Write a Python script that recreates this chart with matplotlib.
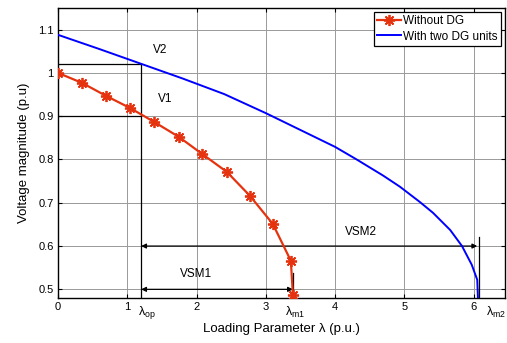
import numpy as np
import matplotlib
matplotlib.use('Agg')
import matplotlib.pyplot as plt

plt.rcParams['font.family'] = ['Liberation Sans', 'DejaVu Sans']
plt.rcParams['mathtext.fontset'] = 'custom'
plt.rcParams['mathtext.rm'] = 'Liberation Sans'
plt.rcParams['mathtext.it'] = 'Liberation Sans'

# without DG (red, markers)
lam_nodg = [0, 0.346, 0.693, 1.039, 1.385, 1.746, 2.078, 2.439, 2.77, 3.10, 3.36, 3.39]
v_nodg = [1.0, 0.977, 0.947, 0.919, 0.887, 0.852, 0.813, 0.771, 0.716, 0.651, 0.566, 0.487]

# with two DG units (blue)
lam_dg = [0, 0.6, 1.2, 1.8, 2.4, 3.0, 3.59, 4.0, 4.31, 4.69, 4.935, 5.22, 5.41,
          5.66, 5.83, 5.97, 6.05, 6.06]
v_dg = [1.088, 1.055, 1.021, 0.987, 0.951, 0.907, 0.861, 0.829, 0.80, 0.763, 0.737,
        0.702, 0.677, 0.637, 0.60, 0.557, 0.522, 0.48]

lam_op = 1.2
lam_m1 = 3.39
lam_m2 = 6.08
v1 = 0.9
v2 = 1.02

fig = plt.figure(figsize=(5.07, 3.43), dpi=100)
ax = fig.add_axes([0.1144, 0.1312, 0.8816, 0.8455])

ax.plot(lam_nodg, v_nodg, color='#E5330F', lw=1.6, marker=(8, 2, 0), ms=8, mew=1.3,
        label='Without DG', zorder=4)
ax.plot(lam_dg, v_dg, color='#0000FF', lw=1.4, label='With two DG units', zorder=4)

# operating point lines
ax.plot([0, lam_op], [v2, v2], color='k', lw=0.9, zorder=3)
ax.plot([0, lam_op], [v1, v1], color='k', lw=0.9, zorder=3)
ax.plot([lam_op, lam_op], [0.48, v2], color='k', lw=0.9, zorder=3)
ax.plot([lam_m1, lam_m1], [0.48, 0.538], color='k', lw=0.9, zorder=3)
ax.plot([lam_m2, lam_m2], [0.48, 0.62], color='k', lw=0.9, zorder=3)

# VSM arrows
arr = dict(arrowstyle='<|-|>', color='k', lw=0.9, mutation_scale=7, shrinkA=0, shrinkB=0)
ax.annotate('', xy=(lam_op, 0.6), xytext=(lam_m2 - 0.03, 0.6), arrowprops=arr, zorder=3)
ax.annotate('', xy=(lam_op, 0.5), xytext=(lam_m1, 0.5), arrowprops=arr, zorder=3)

ax.text(1.37, 1.053, 'V2', fontsize=8.5, ha='left', va='center')
ax.text(1.44, 0.94, 'V1', fontsize=8.5, ha='left', va='center')
ax.text(1.99, 0.535, 'VSM1', fontsize=8.5, ha='center', va='center')
ax.text(4.37, 0.633, 'VSM2', fontsize=8.5, ha='center', va='center')

ax.set_xlim(0, 6.45)
ax.set_ylim(0.48, 1.15)
ax.set_xticks(range(0, 7))
ax.set_yticks([0.5, 0.6, 0.7, 0.8, 0.9, 1.0, 1.1])
ax.set_yticklabels(['0.5', '0.6', '0.7', '0.8', '0.9', '1', '1.1'])
ax.tick_params(direction='in', top=True, right=True, labelsize=8, length=3, pad=3)
ax.grid(True, color='0.6', lw=0.7)
ax.set_axisbelow(True)
for s in ax.spines.values():
    s.set_linewidth(1.0)

# lambda labels under the axis
for xv, lab in [(1.15, r'$\lambda_{\rm op}$'), (3.27, r'$\lambda_{\rm m1}$'), (6.17, r'$\lambda_{\rm m2}$')]:
    ax.text(xv, 0.465, lab, fontsize=9, ha='left', va='top', clip_on=False)

ax.set_xlabel('Loading Parameter λ (p.u.)', fontsize=9.5, labelpad=8)
ax.set_ylabel('Voltage magnitude (p.u)', fontsize=9.5, labelpad=6)

leg = ax.legend(loc='upper right', fontsize=8.5, fancybox=False, framealpha=1,
                edgecolor='k', borderpad=0.3, handlelength=2.0, handletextpad=0.2,
                labelspacing=0.3, borderaxespad=0.3)
leg.get_frame().set_linewidth(0.9)

fig.savefig('out.png', dpi=100)
